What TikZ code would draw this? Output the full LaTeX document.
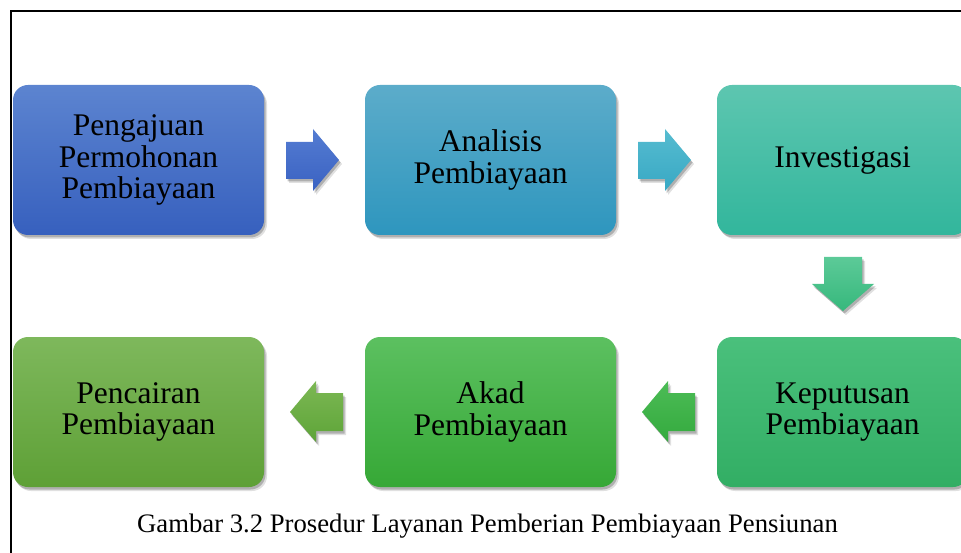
\documentclass[tikz,border=0pt]{standalone}
\usepackage{fontspec}
\setmainfont{Liberation Serif}
\usetikzlibrary{shadows}
\definecolor{b1t}{RGB}{92,132,208}\definecolor{b1b}{RGB}{55,96,190}
\definecolor{b2t}{RGB}{92,172,202}\definecolor{b2b}{RGB}{46,150,190}
\definecolor{b3t}{RGB}{93,198,176}\definecolor{b3b}{RGB}{50,182,156}
\definecolor{b4t}{RGB}{74,192,124}\definecolor{b4b}{RGB}{50,174,100}
\definecolor{b5t}{RGB}{92,192,96}\definecolor{b5b}{RGB}{54,168,54}
\definecolor{b6t}{RGB}{126,184,92}\definecolor{b6b}{RGB}{94,160,54}
\definecolor{a1t}{RGB}{84,124,210}\definecolor{a1b}{RGB}{58,98,194}
\definecolor{a2t}{RGB}{86,188,208}\definecolor{a2b}{RGB}{56,168,196}
\definecolor{a3t}{RGB}{92,202,152}\definecolor{a3b}{RGB}{54,184,124}
\definecolor{a4t}{RGB}{76,188,86}\definecolor{a4b}{RGB}{52,170,62}
\definecolor{a5t}{RGB}{124,184,84}\definecolor{a5b}{RGB}{94,164,56}
\tikzset{
  softshadow/.style={
    drop shadow={opacity=0.12, fill=black, shadow xshift=3pt, shadow yshift=-4pt},
    drop shadow={opacity=0.22, fill=black, shadow xshift=1.5pt, shadow yshift=-2.5pt}},
  stepbox/.style={rounded corners=15pt, minimum width=251pt, minimum height=150pt,
    inner sep=0pt, align=center, font=\fontsize{31.5}{31.5}\selectfont, softshadow},
  arrowshape/.style={softshadow},
}
\begin{document}
\begin{tikzpicture}[x=1pt,y=-1pt]
\useasboundingbox (0,0) rectangle (961,553);
\draw[line width=1.5pt] (11,553) -- (11,11) -- (961,11);

\node[stepbox, top color=b1t, bottom color=b1b] (s1) at (138.5,160) {Pengajuan\\Permohonan\\Pembiayaan};
\node[stepbox, top color=b2t, bottom color=b2b] (s2) at (490.5,160) {Analisis\\Pembiayaan};
\node[stepbox, top color=b3t, bottom color=b3b] (s3) at (842.5,160) {Investigasi};
\node[stepbox, top color=b4t, bottom color=b4b] (s4) at (842.5,412) {Keputusan\\Pembiayaan};
\node[stepbox, top color=b5t, bottom color=b5b] (s5) at (490.5,412) {Akad\\Pembiayaan};
\node[stepbox, top color=b6t, bottom color=b6b] (s6) at (138.5,412) {Pencairan\\Pembiayaan};

% right arrows
\path[arrowshape, top color=a1t, bottom color=a1b] (286,142) -- (313,142) -- (313,129) -- (339,160) -- (313,191) -- (313,179) -- (286,179) -- cycle;
\path[arrowshape, top color=a2t, bottom color=a2b] (638,142) -- (665,142) -- (665,129) -- (691,160) -- (665,191) -- (665,179) -- (638,179) -- cycle;
% down arrow
\path[arrowshape, top color=a3t, bottom color=a3b] (824,257) -- (862,257) -- (862,284) -- (874,284) -- (843,311) -- (812,284) -- (824,284) -- cycle;
% left arrows
\path[arrowshape, top color=a4t, bottom color=a4b] (695,393) -- (668,393) -- (668,381) -- (642,412) -- (668,442) -- (668,431) -- (695,431) -- cycle;
\path[arrowshape, top color=a5t, bottom color=a5b] (343,393) -- (316,393) -- (316,381) -- (290,412) -- (316,442) -- (316,431) -- (343,431) -- cycle;

\node[anchor=base, inner sep=0pt, font=\fontsize{26.7}{26.7}\selectfont] (cap) at (487.5,532) {Gambar 3.2 Prosedur Layanan Pemberian Pembiayaan Pensiunan};
\end{tikzpicture}
\end{document}
